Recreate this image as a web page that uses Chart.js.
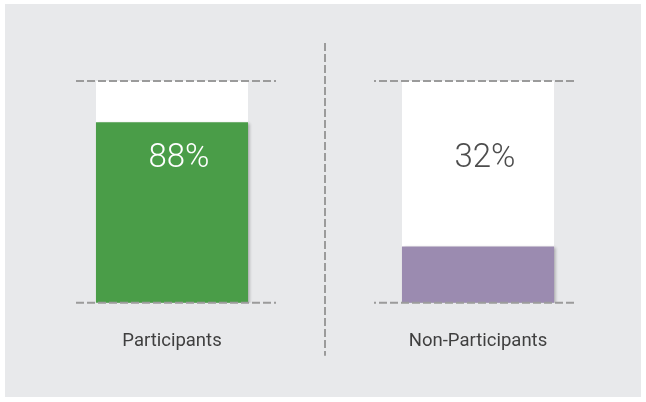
<!DOCTYPE html>
<html>
<head>
<meta charset="utf-8">
<script src="https://cdn.jsdelivr.net/npm/chart.js@4/dist/chart.umd.min.js"></script>
<style>
  html, body { margin: 0; padding: 0; background: #fff; }
  canvas { display: block; }
</style>
</head>
<body>
<canvas id="chart" width="646" height="402"></canvas>
<script>
// two-bar "fill gauge" comparison
const categories = ['Participants', 'Non-Participants'];
const values = [88, 32];
const barColors = ['#4a9d48', '#9b8bb0'];
const valueTextColors = ['#ffffff', '#4d4d4d'];
// the white tracks cover this range of the value axis
const AXIS_MIN = 6.6;
const AXIS_MAX = 106.6;

const PANEL = '#e8e9eb';
const DASH = '#9b9b9b';

const panelPlugin = {
  id: 'panel',
  beforeDraw(chart) {
    const c = chart.ctx;
    c.save();
    c.fillStyle = '#fff';
    c.fillRect(0, 0, chart.width, chart.height);
    c.fillStyle = PANEL;
    c.fillRect(5, 4, chart.width - 10, chart.height - 9);
    c.restore();
  },
};

// white track behind each bar, spanning the whole value axis
const trackPlugin = {
  id: 'track',
  beforeDatasetsDraw(chart) {
    const c = chart.ctx;
    const y = chart.scales.y;
    c.save();
    c.fillStyle = '#fff';
    for (const bar of chart.getDatasetMeta(0).data) {
      const top = y.getPixelForValue(AXIS_MAX), bottom = y.getPixelForValue(AXIS_MIN);
      c.fillRect(bar.x - bar.width / 2, top, bar.width, bottom - top);
    }
    c.restore();
  },
  beforeDatasetDraw(chart) {
    const c = chart.ctx;
    c.save();
    c.shadowColor = 'rgba(0,0,0,0.28)';
    c.shadowBlur = 3;
    c.shadowOffsetX = 2;
    c.shadowOffsetY = 1;
  },
  afterDatasetDraw(chart) {
    chart.ctx.restore();
  },
};

// dashed rules at top/bottom of each gauge, divider between them, value text
const overlayPlugin = {
  id: 'overlay',
  afterDatasetsDraw(chart) {
    const c = chart.ctx, area = chart.chartArea;
    const bars = chart.getDatasetMeta(0).data;
    const mid = (bars[0].x + bars[1].x) / 2;
    c.save();
    c.strokeStyle = DASH;
    c.lineWidth = 2;
    c.setLineDash([8, 3]);
    // divider
    c.beginPath();
    c.moveTo(mid, area.top - 38);
    c.lineTo(mid, area.bottom + 53);
    c.stroke();
    // rules
    bars.forEach(bar => {
      const dir = Math.sign(mid - bar.x);
      const x1 = bar.x - dir * 96, x2 = bar.x + dir * 104;
      [area.top, area.bottom].forEach(yy => {
        c.beginPath();
        c.moveTo(x1, yy);
        c.lineTo(x2, yy);
        c.stroke();
      });
    });
    c.setLineDash([]);
    // value labels
    c.font = '300 33px Roboto, "Open Sans", sans-serif';
    c.textAlign = 'center';
    c.textBaseline = 'alphabetic';
    bars.forEach((bar, i) => {
      c.fillStyle = valueTextColors[i];
      c.fillText(values[i] + '%', bar.x + 7, area.top + 86);
    });
    c.restore();
  },
};

new Chart(document.getElementById('chart'), {
  type: 'bar',
  data: {
    labels: categories,
    datasets: [{
      data: values,
      backgroundColor: barColors,
      borderWidth: 0,
      barPercentage: 0.497,
      categoryPercentage: 1,
    }],
  },
  options: {
    responsive: false,
    animation: false,
    layout: { padding: { left: 19, right: 15, top: 81, bottom: 23 } },
    plugins: { legend: { display: false }, tooltip: { enabled: false } },
    scales: {
      x: {
        offset: true,
        grid: { display: false, drawTicks: false },
        border: { display: false },
        ticks: {
          color: '#3f3f3f',
          padding: 27,
          font: { family: 'Roboto, "Open Sans", sans-serif', size: 18.5 },
        },
      },
      y: { display: false, min: AXIS_MIN, max: AXIS_MAX },
    },
  },
  plugins: [panelPlugin, trackPlugin, overlayPlugin],
});
</script>
</body>
</html>
